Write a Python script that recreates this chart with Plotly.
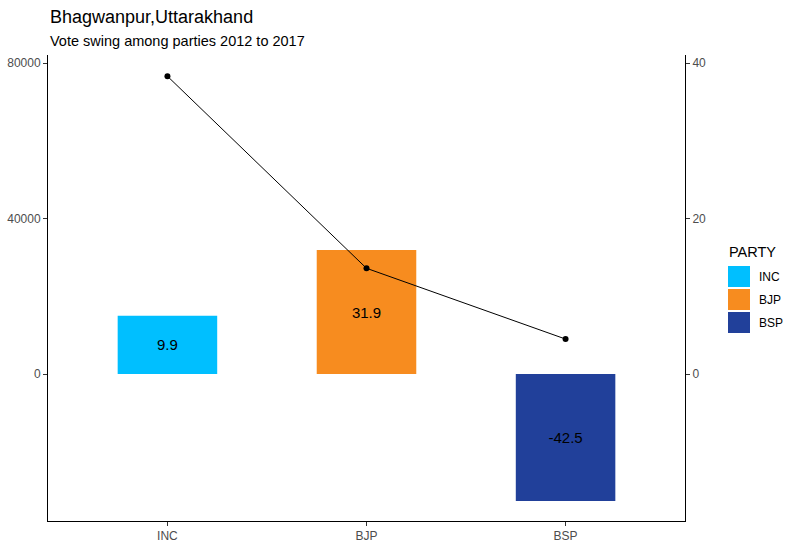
import plotly.graph_objects as go

parties = ["INC", "BJP", "BSP"]
bar_values = [15000, 31900, -32650]
swing_labels = ["9.9", "31.9", "-42.5"]
line_values = [38.3, 13.6, 4.5]
colors = ["#00BFFF", "#F78C1F", "#21409A"]

y_lo, y_hi = -37800, 82060
scale = 2000.0

W, H = 797, 549
L, R, T, B = 48, 685, 55, 521
pw, ph = R - L, B - T


def px(x):
    return (x - L) / pw


def py(y):
    return (B - y) / ph


FONT = "Arial, Liberation Sans, sans-serif"

fig = go.Figure()
for p, v, t, c in zip(parties, bar_values, swing_labels, colors):
    fig.add_trace(go.Bar(
        x=[p], y=[v], name=p, marker=dict(color=c, line=dict(width=0)),
        text=[t], textposition="inside", insidetextanchor="middle",
        textfont=dict(color="black", size=15, family=FONT),
        width=0.5, yaxis="y", showlegend=False,
    ))

fig.add_trace(go.Scatter(
    x=parties, y=line_values, mode="lines+markers", yaxis="y2",
    line=dict(color="black", width=1), marker=dict(color="black", size=6),
    showlegend=False,
))

tickfont = dict(color="#4D4D4D", size=12, family=FONT)

annotations = [
    dict(text="Bhagwanpur,Uttarakhand", x=px(48), y=py(17), xref="paper", yref="paper",
         xanchor="left", yanchor="middle", showarrow=False,
         font=dict(size=18, color="black", family=FONT)),
    dict(text="Vote swing among parties 2012 to 2017", x=px(48), y=py(41), xref="paper", yref="paper",
         xanchor="left", yanchor="middle", showarrow=False,
         font=dict(size=14.5, color="black", family=FONT)),
    dict(text="PARTY", x=px(727), y=py(252), xref="paper", yref="paper",
         xanchor="left", yanchor="middle", showarrow=False,
         font=dict(size=14.5, color="black", family=FONT)),
]
shapes = []
key_tops = [266, 289, 312]
for p, c, top in zip(parties, colors, key_tops):
    shapes.append(dict(type="rect", xref="paper", yref="paper",
                       x0=px(728), x1=px(750), y0=py(top + 21), y1=py(top),
                       fillcolor=c, line=dict(width=0)))
    annotations.append(dict(text=p, x=px(757), y=py(top + 11), xref="paper", yref="paper",
                            xanchor="left", yanchor="middle", showarrow=False,
                            font=dict(size=12, color="black", family=FONT)))

fig.update_layout(
    width=W, height=H,
    margin=dict(l=L, r=W - R, t=T, b=H - B, autoexpand=False),
    plot_bgcolor="white", paper_bgcolor="white",
    barmode="overlay", showlegend=False,
    font=dict(family=FONT, color="black"),
    xaxis=dict(
        type="category", range=[-0.6, 2.6], showline=True, linecolor="black", linewidth=1,
        ticks="outside", ticklen=4, tickcolor="#333333", tickfont=tickfont,
        showgrid=False, zeroline=False, automargin=False,
    ),
    yaxis=dict(
        range=[y_lo, y_hi], tickvals=[0, 40000, 80000], ticktext=["0", "40000", "80000"],
        showline=True, linecolor="black", linewidth=1,
        ticks="outside", ticklen=4, tickcolor="#333333", tickfont=tickfont,
        showgrid=False, zeroline=False, automargin=False,
    ),
    yaxis2=dict(
        overlaying="y", side="right", range=[y_lo / scale, y_hi / scale],
        tickvals=[0, 20, 40], showline=True, linecolor="black", linewidth=1,
        ticks="outside", ticklen=4, tickcolor="#333333", tickfont=tickfont,
        showgrid=False, zeroline=False, automargin=False,
    ),
    annotations=annotations,
    shapes=shapes,
)

fig.write_html("out.html")
